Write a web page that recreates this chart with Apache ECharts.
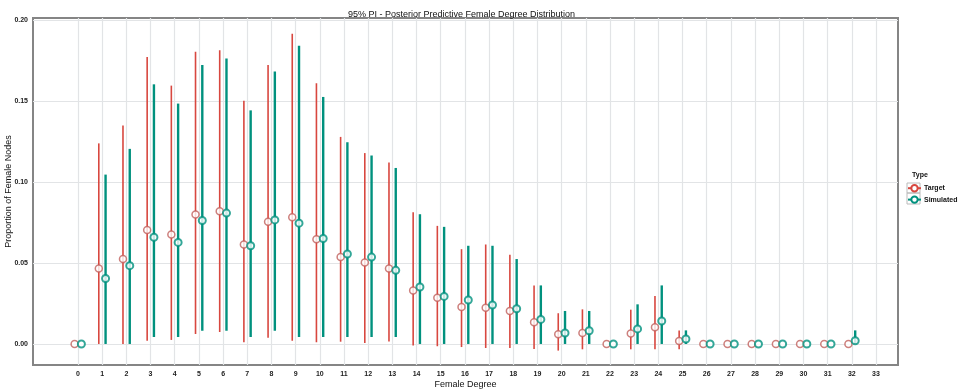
<!DOCTYPE html>
<html>
<head>
<meta charset="utf-8">
<script src="https://cdn.jsdelivr.net/npm/echarts@6/dist/echarts.min.js"></script>
<style>html,body{margin:0;padding:0;background:#fff;}#c{width:963px;height:389px;}</style>
</head>
<body>
<div id="c"></div>
<script>
const categories = [0,1,2,3,4,5,6,7,8,9,10,11,12,13,14,15,16,17,18,19,20,21,22,23,24,25,26,27,28,29,30,31,32,33];
const yTicks = [0, 0.05, 0.10, 0.15, 0.20];
const targetMid = [0,0.0467,0.0525,0.0704,0.0677,0.080,0.0821,0.0615,0.0755,0.0784,0.0648,0.0537,0.0504,0.0467,0.0331,0.0286,0.0228,0.0224,0.0204,0.0134,0.006,0.0068,0,0.0064,0.0103,0.0019,0,0,0,0,0,0,0,null];
const targetLo  = [null,0,0,0.002,0.0025,0.0062,0.0074,0.001,0.0039,0.002,0.001,0.0014,0.0006,0.0016,-0.001,-0.0014,-0.0019,-0.0025,-0.0025,-0.0031,-0.0041,-0.0033,null,-0.0033,-0.0033,-0.0033,null,null,null,null,null,null,null,null];
const targetHi  = [null,0.124,0.135,0.1774,0.1597,0.1807,0.1815,0.1504,0.1724,0.1918,0.1612,0.128,0.118,0.1121,0.0815,0.073,0.0586,0.0615,0.0551,0.0362,0.019,0.0214,null,0.0212,0.0296,0.0084,null,null,null,null,null,null,null,null];
const simMid = [0,0.0405,0.0484,0.066,0.0628,0.0763,0.0809,0.0607,0.0767,0.0747,0.0652,0.0556,0.0537,0.0455,0.0352,0.0294,0.0272,0.0241,0.0218,0.0152,0.0068,0.0082,0,0.0093,0.0142,0.0031,0,0,0,0,0,0,0.002,null];
const simLo  = [null,0,0,0.0043,0.0043,0.0082,0.0082,0.0043,0.0082,0.0043,0.0043,0.0043,0.0043,0.0043,0,0,0,0,0,0,0,0,null,0,0,0,null,null,null,null,null,null,0,null];
const simHi  = [null,0.1047,0.1206,0.1605,0.1486,0.1724,0.1765,0.1444,0.1685,0.1844,0.1527,0.1247,0.1165,0.1088,0.0802,0.0724,0.0607,0.0607,0.0525,0.0362,0.0204,0.0204,null,0.0245,0.0362,0.0084,null,null,null,null,null,null,0.0084,null];

const RED = '#d8473f';
const TEAL = '#00917e';
const DODGE = 0.14;

function bars(lo, hi, off) {
  const out = [];
  categories.forEach((c, i) => { if (lo[i] !== null && hi[i] !== null) out.push([c + off, lo[i], hi[i]]); });
  return out;
}
function pts(mid, off) {
  const out = [];
  categories.forEach((c, i) => { if (mid[i] !== null) out.push([c + off, mid[i]]); });
  return out;
}
function barRenderer(color, width) {
  return function (params, api) {
    const p1 = api.coord([api.value(0), api.value(1)]);
    const p2 = api.coord([api.value(0), api.value(2)]);
    return { type: 'line', shape: { x1: p1[0], y1: p1[1], x2: p2[0], y2: p2[1] }, style: { stroke: color, lineWidth: width } };
  };
}

const gridMarks = categories.map(c => ({ xAxis: c })).concat(yTicks.map(v => ({ yAxis: v })));

const chart = echarts.init(document.getElementById('c'), null, { renderer: 'canvas' });
chart.setOption({
  animation: false,
  backgroundColor: '#fff',
  title: [
    { text: '95% PI - Posterior Predictive Female Degree Distribution', left: 343, top: 5,
      textStyle: { fontFamily: 'Liberation Sans, Arial', fontSize: 9, fontWeight: 'normal', color: '#111' } },
    { text: 'Type', left: 907, top: 167,
      textStyle: { fontFamily: 'Liberation Sans, Arial', fontSize: 7, fontWeight: 'bold', color: '#111' } }
  ],
  legend: {
    data: ['Target', 'Simulated'], orient: 'vertical', left: 907, top: 184,
    itemWidth: 13, itemHeight: 8, itemGap: 3, padding: 0,
    textStyle: { fontFamily: 'Liberation Sans, Arial', fontSize: 7, fontWeight: 'bold', color: '#111', padding: [0,0,0,-2] }
  },
  graphic: [
    { type: 'rect', shape: { x: 907, y: 183, width: 13, height: 10 }, style: { fill: 'none', stroke: '#bbb', lineWidth: 1 }, z: -1 },
    { type: 'rect', shape: { x: 907, y: 193, width: 13, height: 11 }, style: { fill: 'none', stroke: '#bbb', lineWidth: 1 }, z: -1 }
  ],
  grid: { left: 33, right: 65, top: 18, bottom: 24, containLabel: false, outerBoundsMode: 'none',
    show: true, borderColor: '#858585', borderWidth: 2, backgroundColor: 'transparent' },
  xAxis: {
    type: 'value', min: -1.861, max: 33.91,
    name: 'Female Degree', nameLocation: 'middle', nameGap: 15, nameMoveOverlap: false,
    nameTextStyle: { fontFamily: 'Liberation Sans, Arial', fontSize: 9, color: '#111' },
    axisLine: { show: false }, axisTick: { show: false }, splitLine: { show: false },
    axisLabel: { customValues: categories, margin: 6, fontFamily: 'Liberation Sans, Arial', fontSize: 7, fontWeight: 'bold', color: '#222' }
  },
  yAxis: {
    type: 'value', min: -0.013, max: 0.2015,
    name: 'Proportion of Female Nodes', nameLocation: 'middle', nameGap: 20, nameRotate: 90, nameMoveOverlap: false,
    nameTextStyle: { fontFamily: 'Liberation Sans, Arial', fontSize: 9, color: '#111' },
    axisLine: { show: false }, splitLine: { show: false },
    axisTick: { show: true, customValues: yTicks, length: 3, lineStyle: { color: '#555', width: 1 } },
    axisLabel: { customValues: yTicks, margin: 5, formatter: v => v.toFixed(2), fontFamily: 'Liberation Sans, Arial', fontSize: 7, fontWeight: 'bold', color: '#222' }
  },
  series: [
    { name: 'Target', type: 'line', data: [], symbol: 'emptyCircle', symbolSize: 6,
      itemStyle: { color: RED, borderWidth: 1.3 }, lineStyle: { color: RED, width: 1.3 } },
    { name: 'Simulated', type: 'line', data: [], symbol: 'emptyCircle', symbolSize: 6,
      itemStyle: { color: TEAL, borderWidth: 1.5 }, lineStyle: { color: TEAL, width: 2.2 } },
    { name: 'Target', type: 'custom', z: 2, renderItem: barRenderer(RED, 1.6), data: bars(targetLo, targetHi, -DODGE),
      encode: { x: 0, y: [1, 2] }, clip: true, silent: true,
      markLine: { z: 1, silent: true, symbol: 'none', label: { show: false }, animation: false,
        lineStyle: { color: '#e2e4e6', width: 1.2, type: 'solid' }, data: gridMarks } },
    { name: 'Simulated', type: 'custom', z: 2, renderItem: barRenderer(TEAL, 2.4), data: bars(simLo, simHi, DODGE),
      encode: { x: 0, y: [1, 2] }, clip: true, silent: true },
    { name: 'Target', type: 'scatter', z: 3, data: pts(targetMid, -DODGE), symbol: 'circle', symbolSize: 7,
      itemStyle: { color: '#fff', borderColor: '#c0605c', borderWidth: 1.5 }, silent: true },
    { name: 'Simulated', type: 'scatter', z: 3, data: pts(simMid, DODGE), symbol: 'circle', symbolSize: 7,
      itemStyle: { color: '#fff', borderColor: TEAL, borderWidth: 2 }, silent: true }
  ]
});
</script>
</body>
</html>
